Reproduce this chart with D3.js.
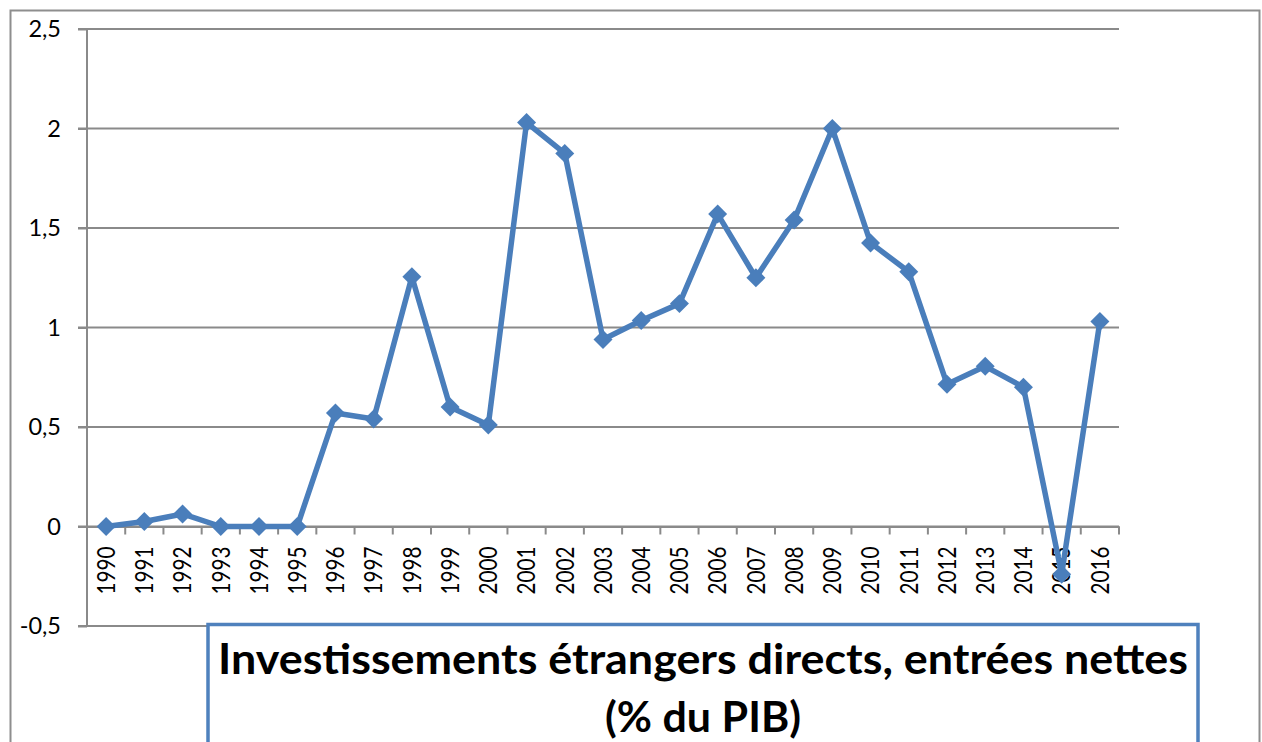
<!DOCTYPE html>
<html><head><meta charset="utf-8">
<script src="https://cdn.jsdelivr.net/npm/d3@7"></script>
<style>body{margin:0;background:#fff;} svg{display:block}</style>
</head><body><svg id="c" width="1262" height="742"></svg>
<script>
const years = ["1990","1991","1992","1993","1994","1995","1996","1997","1998","1999","2000","2001","2002","2003","2004","2005","2006","2007","2008","2009","2010","2011","2012","2013","2014","2015","2016"];
const values = [0, 0.025, 0.063, 0, 0, 0, 0.57, 0.54, 1.255, 0.60, 0.51, 2.03, 1.875, 0.94, 1.035, 1.12, 1.57, 1.25, 1.54, 2.0, 1.425, 1.28, 0.715, 0.805, 0.70, -0.24, 1.03];
const yTicks = [-0.5, 0, 0.5, 1, 1.5, 2, 2.5];
const titleLines = ["Investissements étrangers directs, entrées nettes", "(% du PIB)"];

const svg = d3.select("#c");
const blue = "#4a7ebb", grid = "#8a8a8a";
const x = d3.scaleBand().domain(years).range([87, 1119]).padding(0);
const y = d3.scaleLinear().domain([-0.5, 2.5]).range([626, 29]);
const loc = d3.formatLocale({decimal: ",", thousands: " ", grouping: [3], currency: ["", ""], minus: "-"});
const fmt = loc.format("");

// outer frame
svg.append("rect").attr("x", 10.5).attr("y", 10.5).attr("width", 1249).attr("height", 800)
  .attr("fill", "none").attr("stroke", "#8e8e8e").attr("stroke-width", 2);

// gridlines
svg.append("g").selectAll("line").data(yTicks).join("line")
  .attr("x1", 78).attr("x2", 1119).attr("y1", d => y(d)).attr("y2", d => y(d))
  .attr("stroke", grid).attr("stroke-width", 2);

// y axis
const ya = svg.append("g").attr("transform", "translate(87,0)")
  .call(d3.axisLeft(y).tickValues(yTicks).tickSize(9).tickPadding(17).tickFormat(fmt));
ya.select(".domain").remove();
ya.selectAll(".tick line").attr("stroke", grid).attr("stroke-width", 2);
ya.selectAll("text").attr("font-family", "Lato, 'Open Sans', sans-serif").attr("font-size", 23.5).attr("fill", "#000");
svg.append("line").attr("x1", 87).attr("x2", 87).attr("y1", y(2.5)).attr("y2", y(-0.5))
  .attr("stroke", grid).attr("stroke-width", 2);

// x axis at zero
const y0 = y(0);
const xa = svg.append("g").attr("transform", `translate(0,${y0})`)
  .call(d3.axisBottom(x).tickSize(0).tickFormat(""));
xa.select(".domain").attr("stroke", grid).attr("stroke-width", 2);
const bounds = years.map(d => x(d) + x.bandwidth());
svg.append("g").selectAll("line").data(bounds).join("line")
  .attr("x1", d => d).attr("x2", d => d).attr("y1", y0).attr("y2", y0 + 8)
  .attr("stroke", grid).attr("stroke-width", 2);
svg.append("g").selectAll("text").data(years).join("text")
  .attr("transform", d => `translate(${x(d) + x.bandwidth() / 2},${y0 + 20}) rotate(-90)`)
  .attr("text-anchor", "end").attr("dy", "0.36em")
  .attr("font-family", "Lato, 'Open Sans', sans-serif").attr("font-size", 24.5).attr("fill", "#000")
  .attr("textLength", 48).attr("lengthAdjust", "spacingAndGlyphs")
  .text(d => d);

// line + markers
const pts = years.map((d, i) => [x(d) + x.bandwidth() / 2, y(values[i])]);
svg.append("path").datum(pts).attr("d", d3.line())
  .attr("fill", "none").attr("stroke", blue).attr("stroke-width", 5.5).attr("stroke-linejoin", "round");
svg.append("g").selectAll("path").data(pts).join("path")
  .attr("d", d3.symbol(d3.symbolSquare, 180)())
  .attr("transform", d => `translate(${d[0]},${d[1]}) rotate(45)`)
  .attr("fill", blue);

// title box
svg.append("rect").attr("x", 208).attr("y", 624.5).attr("width", 990).attr("height", 200)
  .attr("fill", "#fff").attr("stroke", "#4f81bd").attr("stroke-width", 3.5);
svg.append("g").selectAll("text").data(titleLines).join("text")
  .attr("x", 703).attr("y", (d, i) => 674 + i * 58)
  .attr("text-anchor", "middle").attr("font-family", "Lato, 'Open Sans', sans-serif")
  .attr("font-weight", "bold").attr("font-size", 42.5).attr("fill", "#000")
  .attr("textLength", (d, i) => i === 0 ? 970 : 196)
  .attr("lengthAdjust", "spacingAndGlyphs")
  .text(d => d);
</script></body></html>
